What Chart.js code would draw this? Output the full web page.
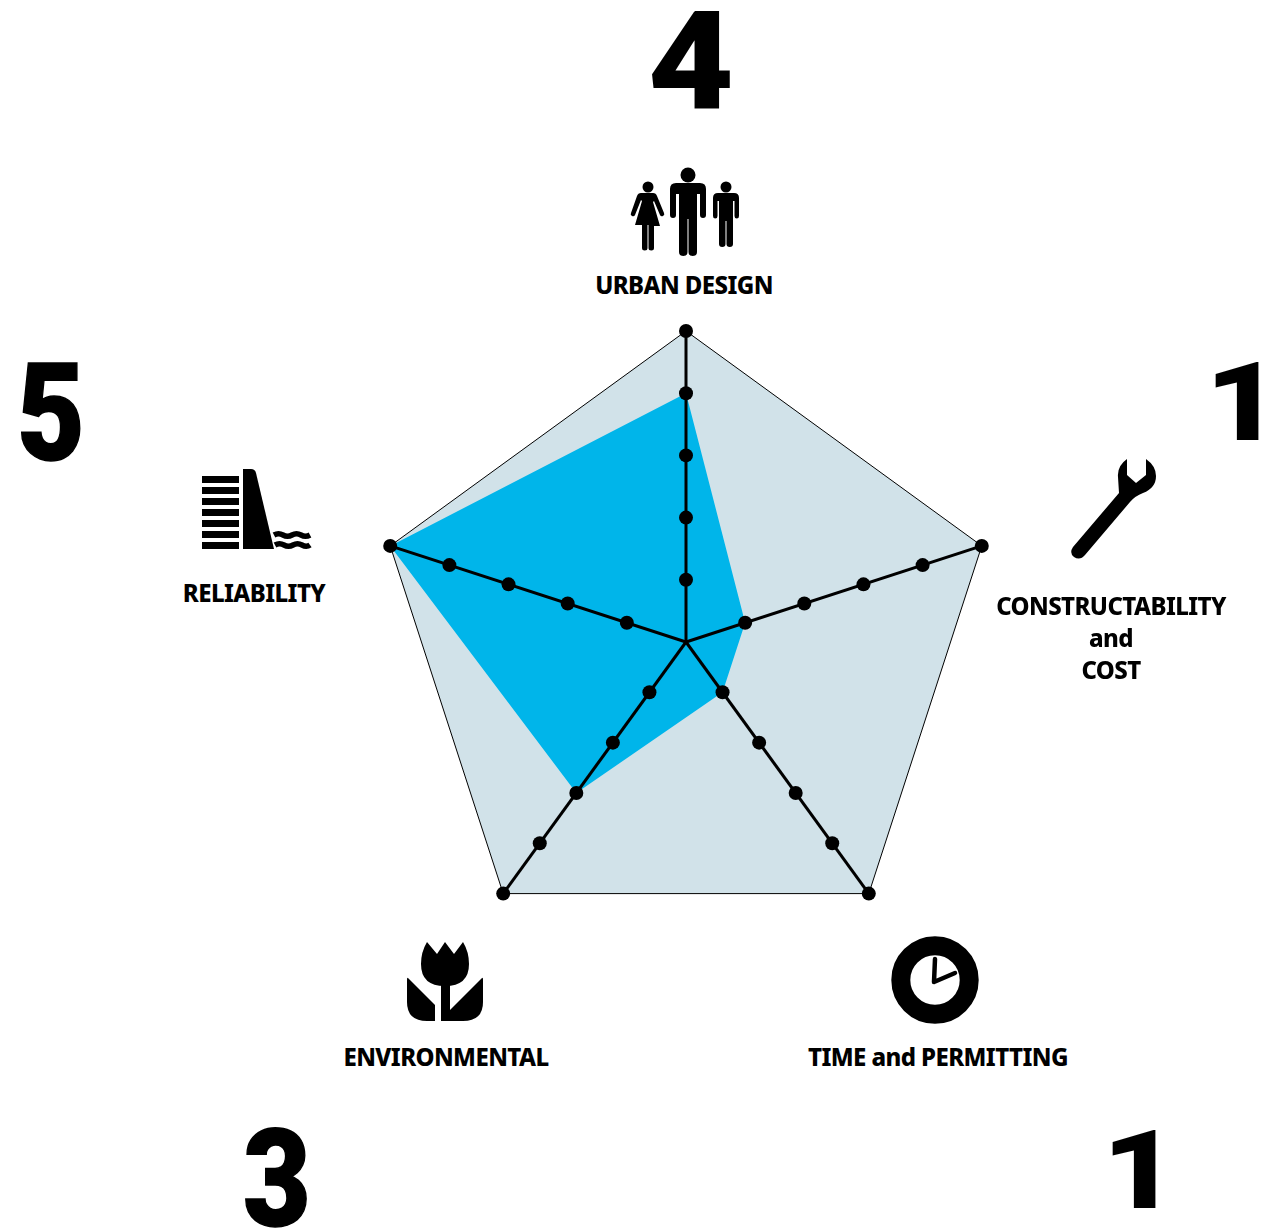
<!DOCTYPE html>
<html>
<head>
<meta charset="utf-8">
<title>Criteria radar</title>
<script src="https://cdn.jsdelivr.net/npm/chart.js@4"></script>
<style>
  html, body { margin: 0; padding: 0; background: #fff; }
  #page { position: relative; width: 1268px; height: 1232px; overflow: hidden; font-family: "Noto Sans", sans-serif; color: #000; }
  #chart-box { position: absolute; left: 356px; top: 312px; width: 660px; height: 660px; }
  .lbl { position: absolute; font-weight: 800; font-size: 24px; line-height: 32px; letter-spacing: -0.6px; text-align: center; transform: translateX(-50%); white-space: nowrap; }
  .big { position: absolute; font-family: Roboto, sans-serif; font-weight: 900; line-height: 1; }
  svg { position: absolute; }
</style>
</head>
<body>
<div id="page">
  <div id="chart-box"><canvas id="radar"></canvas></div>

  <div class="big" style="left:691px;top:-7px;font-size:138px;transform:translateX(-50%) scaleX(1.08)">4</div>
  <div class="big" style="left:1243px;top:349px;font-size:109px;transform:translateX(-50%) scaleX(1.2)">1</div>
  <div class="big" style="left:1140px;top:1117px;font-size:109px;transform:translateX(-50%) scaleX(1.2)">1</div>
  <div class="big" style="left:277px;top:1112px;font-size:136px;-webkit-text-stroke:1.5px #000;transform:translateX(-50%) scaleX(0.86)">3</div>
  <div class="big" style="left:51px;top:346px;font-size:136px;-webkit-text-stroke:1.5px #000;transform:translateX(-50%) scaleX(0.86)">5</div>

  <div class="lbl" style="left:684px;top:269px">URBAN DESIGN</div>
  <div class="lbl" style="left:1111px;top:590px">CONSTRUCTABILITY<br>and<br>COST</div>
  <div class="lbl" style="left:938px;top:1041px">TIME and PERMITTING</div>
  <div class="lbl" style="left:446px;top:1041px">ENVIRONMENTAL</div>
  <div class="lbl" style="left:254px;top:577px">RELIABILITY</div>

  <!-- people -->
  <svg style="left:630px;top:165px" width="115" height="95" viewBox="0 0 115 95">
    <circle cx="58" cy="10" r="7.500"/>
    <path d="M46 18h24q6 0 6 6v26q0 3-3 3t-3-3V29h-3v58q0 4-4.250 4t-4.250-4V54h-1v33q0 4-4.250 4t-4.250-4V29h-3v21q0 3-3 3t-3-3V24q0-6 6-6z"/>
    <circle cx="18" cy="22" r="5.500"/>
    <path d="M13 29h10q3 0 4 3l7 17q1 2-1 3t-3-1l-6-14-1 1 7 24H24v22q0 2.500-2.750 2.500T18.500 84V61h-1v23q0 2.500-2.750 2.500T12 84V61H5l7-24-1-1-6 15q-1 2-3 1t-1-3l6-17q1-3 4-3z" transform="translate(0 -1)"/>
    <circle cx="96" cy="22" r="5.500"/>
    <path d="M88 28h16q5 0 5 5v18q0 2.500-2.250 2.500t-2.250-2.500V36H103v43q0 3-3.250 3t-3.250-3V56h-1v23q0 3-3.250 3T89 79V36h-1.500v15q0 2.500-2.250 2.500T83 51V33q0-5 5-5z"/>
  </svg>

  <!-- wrench -->
  <svg style="left:1065px;top:455px" width="95" height="110" viewBox="0 0 95 110">
    <path d="M62 4V20L71 28 81 20V4Q91 11 91 21 91 33 78 38 70 41 65 47L20 100Q15 106 9 102 4 98 8 92L54 38 53 22Q52 11 62 4Z"/>
  </svg>

  <!-- clock -->
  <svg style="left:890px;top:935px" width="90" height="90" viewBox="0 0 90 90">
    <circle cx="45" cy="45" r="34.200" fill="none" stroke="#000" stroke-width="19"/>
    <path d="M45 24L44 47L65 38" fill="none" stroke="#000" stroke-width="4.500" stroke-linecap="round" stroke-linejoin="round"/>
  </svg>

  <!-- tulip -->
  <svg style="left:405px;top:940px" width="80" height="84" viewBox="0 0 80 84">
    <path d="M22 2L32 14L40 2L49 14L58 2Q64 12 64 24 64 46 40 46 16 46 16 24 16 12 22 2Z"/>
    <path d="M36 44h9v37h-9z"/>
    <path d="M3 38L30 65V81H22Q2 81 2 62V40Q2 37 3 38Z"/>
    <path d="M77 38L45 70V81H58Q78 81 78 62V40Q78 37 77 38Z"/>
  </svg>

  <!-- dam -->
  <svg style="left:200px;top:467px" width="115" height="85" viewBox="0 0 115 85">
    <path d="M2 9h37v7H2zM2 20h37v7H2zM2 31h37v7H2zM2 42h37v7H2zM2 53h37v7H2zM2 64h37v7H2zM2 75h37v7H2z"/>
    <path d="M43 2h8q4 0 5 4l18 76H43z"/>
    <path d="M74 68q4.500-2.500 9 0t9 0 9 0 9 0M75 78q4.500-2.500 9 0t9 0 9 0 8 0" fill="none" stroke="#000" stroke-width="5.500"/>
  </svg>
</div>

<script>
// axis order runs clockwise from the top, as Chart.js lays it out
const categories = ['URBAN DESIGN', 'CONSTRUCTABILITY and COST', 'TIME and PERMITTING', 'ENVIRONMENTAL', 'RELIABILITY'];
const scores = [4, 1, 1, 3, 5];
const fullScale = [5, 5, 5, 5, 5];
const tickLevels = [1, 2, 3, 4, 5];

// one row of dots per tick level
const dotSets = tickLevels.map(level => ({
  data: categories.map(() => level),
  showLine: false,
  fill: false,
  borderWidth: 0,
  pointRadius: 7,
  pointBackgroundColor: '#000',
  pointBorderWidth: 0,
  clip: false,
  order: 0,
}));

new Chart(document.getElementById('radar'), {
  type: 'radar',
  data: {
    labels: categories,
    datasets: [
      ...dotSets,
      { data: scores, backgroundColor: '#00b5ea', borderWidth: 0, pointRadius: 0, fill: true, order: 1 },
      { data: fullScale, backgroundColor: '#d1e2e9', borderColor: '#000', borderWidth: 1, pointRadius: 0, fill: true, order: 2 },
    ],
  },
  options: {
    responsive: true,
    maintainAspectRatio: true,
    animation: false,
    layout: { padding: 19 },
    plugins: { legend: { display: false }, tooltip: { enabled: false } },
    scales: {
      r: {
        min: 0,
        max: 5,
        ticks: { display: false, stepSize: 1 },
        pointLabels: { display: false },
        grid: { display: false, z: 1 },
        angleLines: { display: true, color: '#000', lineWidth: 3 },
      },
    },
  },
});
</script>
</body>
</html>
